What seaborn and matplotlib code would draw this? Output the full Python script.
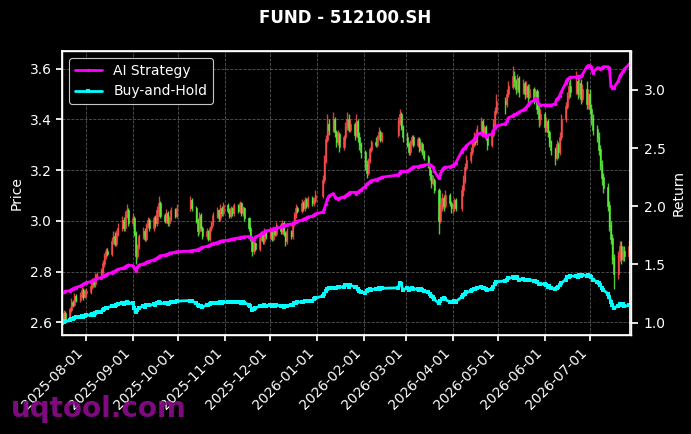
import matplotlib
matplotlib.use("Agg")
import matplotlib.pyplot as plt
import matplotlib.dates as mdates
import seaborn as sns
import numpy as np
import pandas as pd

# trading calendar (SSE holidays removed)
start_date = "2025-07-16"
end_date = "2026-07-28"
holidays = ["2025-10-01", "2025-10-02", "2025-10-03", "2025-10-06", "2025-10-07", "2025-10-08",
            "2026-01-01", "2026-01-02",
            "2026-02-16", "2026-02-17", "2026-02-18", "2026-02-19", "2026-02-20", "2026-02-23",
            "2026-04-06", "2026-05-01", "2026-05-04", "2026-05-05", "2026-06-19"]

first_open = 2.605

close = [
    2.620, 2.635, 2.615, 2.650, 2.680, 2.670, 2.700, 2.690, 2.705, 2.725, 2.700, 2.715,  # jul
    2.72, 2.74, 2.76, 2.75, 2.78, 2.79, 2.80, 2.83, 2.86, 2.88, 2.87, 2.92, 2.94, 2.91, 2.95, 2.97, 3.00, 2.97, 3.02, 3.04, 2.99,  # aug
    3.01, 2.95, 2.86, 2.90, 2.94, 2.96, 2.93, 2.98, 3.00, 2.97, 3.01, 2.99, 3.04, 3.07, 3.02, 3.00, 3.03, 2.99, 3.01, 3.04, 3.02, 3.05,  # sep
    3.08, 3.05, 3.00, 2.96, 3.02, 2.97, 2.94, 2.96, 2.93, 2.97, 2.99, 3.02, 3.04, 3.01, 3.05, 3.03, 3.06,  # oct
    3.04, 3.02, 3.05, 3.03, 3.06, 3.04, 3.07, 3.03, 3.05, 3.01, 2.97, 2.93, 2.88, 2.91, 2.89, 2.93, 2.95, 2.92, 2.96, 2.94,  # nov
    2.96, 2.93, 2.97, 2.95, 2.98, 2.96, 2.99, 2.95, 2.92, 2.96, 2.94, 2.99, 3.02, 3.05, 3.04, 3.07, 3.05, 3.08, 3.06, 3.09, 3.07, 3.08, 3.10,  # dec
    3.16, 3.24, 3.32, 3.38, 3.36, 3.40, 3.35, 3.31, 3.34, 3.29, 3.33, 3.37, 3.40, 3.36, 3.38, 3.34, 3.39, 3.33, 3.30, 3.27,  # jan
    3.22, 3.19, 3.24, 3.28, 3.31, 3.30, 3.33, 3.35, 3.32, 3.34, 3.39, 3.42, 3.37, 3.33,  # feb
    3.30, 3.27, 3.31, 3.33, 3.30, 3.32, 3.28, 3.30, 3.27, 3.25, 3.22, 3.18, 3.15, 3.16, 3.12, 3.00, 3.05, 3.09, 3.06, 3.10, 3.07, 3.05,  # mar
    3.05, 3.08, 3.05, 3.12, 3.16, 3.21, 3.24, 3.27, 3.30, 3.33, 3.31, 3.36, 3.39, 3.35, 3.37, 3.33, 3.30, 3.34, 3.38, 3.43, 3.47,  # apr
    3.46, 3.50, 3.53, 3.57, 3.55, 3.52, 3.56, 3.51, 3.54, 3.50, 3.53, 3.49, 3.52, 3.48, 3.51, 3.44, 3.40, 3.42,  # may
    3.37, 3.39, 3.35, 3.31, 3.28, 3.25, 3.30, 3.27, 3.33, 3.40, 3.45, 3.49, 3.53, 3.51, 3.55, 3.50, 3.54, 3.48, 3.52, 3.46, 3.50,  # jun
    3.44, 3.40, 3.36, 3.33, 3.28, 3.22, 3.17, 3.13, 3.06, 2.98, 2.93, 2.85, 2.79, 2.86, 2.90, 2.85, 2.88, 2.86, 2.90, 2.87,  # jul
]

high = [
    2.64, 2.65, 2.645, 2.66, 2.695, 2.69, 2.715, 2.71, 2.72, 2.74, 2.735, 2.73,
    2.735, 2.755, 2.775, 2.77, 2.795, 2.80, 2.815, 2.845, 2.875, 2.895, 2.895, 2.935, 2.96, 2.955, 2.965, 2.99, 3.02, 3.015, 3.04, 3.065, 3.05,
    3.03, 3.02, 2.96, 2.91, 2.95, 2.975, 2.97, 2.99, 3.015, 3.01, 3.02, 3.025, 3.06, 3.10, 3.08, 3.03, 3.045, 3.04, 3.02, 3.055, 3.05, 3.065,
    3.10, 3.09, 3.06, 3.01, 3.035, 3.03, 2.98, 2.97, 2.965, 2.98, 3.00, 3.035, 3.055, 3.045, 3.065, 3.06, 3.075,
    3.07, 3.05, 3.06, 3.055, 3.07, 3.065, 3.08, 3.075, 3.06, 3.055, 3.015, 2.98, 2.94, 2.92, 2.915, 2.94, 2.96, 2.955, 2.97, 2.965,
    2.975, 2.97, 2.98, 2.975, 2.995, 2.99, 3.005, 3.00, 2.96, 2.97, 2.965, 3.00, 3.035, 3.065, 3.06, 3.085, 3.08, 3.095, 3.09, 3.10, 3.10, 3.095, 3.12,
    3.18, 3.26, 3.34, 3.42, 3.40, 3.43, 3.41, 3.36, 3.36, 3.35, 3.34, 3.39, 3.43, 3.42, 3.40, 3.39, 3.42, 3.40, 3.35, 3.31,
    3.28, 3.24, 3.25, 3.29, 3.32, 3.33, 3.34, 3.37, 3.36, 3.35, 3.41, 3.44, 3.43, 3.38,
    3.35, 3.31, 3.32, 3.34, 3.34, 3.33, 3.33, 3.31, 3.31, 3.28, 3.26, 3.23, 3.20, 3.18, 3.17, 3.13, 3.07, 3.11, 3.10, 3.12, 3.11, 3.08,
    3.07, 3.09, 3.09, 3.14, 3.18, 3.23, 3.26, 3.29, 3.32, 3.35, 3.34, 3.38, 3.41, 3.40, 3.38, 3.38, 3.34, 3.36, 3.40, 3.45, 3.50,
    3.49, 3.52, 3.55, 3.61, 3.59, 3.56, 3.58, 3.57, 3.56, 3.55, 3.55, 3.54, 3.54, 3.53, 3.52, 3.52, 3.46, 3.44,
    3.43, 3.41, 3.40, 3.36, 3.32, 3.29, 3.32, 3.31, 3.35, 3.42, 3.47, 3.51, 3.55, 3.56, 3.59, 3.57, 3.56, 3.56, 3.54, 3.55, 3.52,
    3.52, 3.46, 3.42, 3.38, 3.35, 3.30, 3.24, 3.19, 3.15, 3.08, 3.00, 2.95, 2.87, 2.88, 2.92, 2.92, 2.90, 2.90, 2.92, 2.91,
]

low = [
    2.59, 2.61, 2.60, 2.61, 2.64, 2.66, 2.665, 2.68, 2.68, 2.695, 2.69, 2.695,
    2.70, 2.71, 2.73, 2.74, 2.74, 2.77, 2.78, 2.79, 2.82, 2.85, 2.86, 2.86, 2.91, 2.90, 2.90, 2.94, 2.96, 2.96, 2.96, 3.01, 2.98,
    2.98, 2.94, 2.83, 2.85, 2.89, 2.93, 2.92, 2.92, 2.97, 2.96, 2.96, 2.98, 2.98, 3.03, 3.01, 2.99, 2.99, 2.98, 2.98, 3.00, 3.01, 3.01,
    3.04, 3.04, 2.99, 2.94, 2.95, 2.96, 2.93, 2.93, 2.92, 2.92, 2.96, 2.98, 3.01, 3.00, 3.00, 3.02, 3.02,
    3.03, 3.01, 3.01, 3.02, 3.02, 3.03, 3.03, 3.02, 3.02, 3.00, 2.96, 2.92, 2.86, 2.87, 2.88, 2.88, 2.92, 2.91, 2.91, 2.93,
    2.93, 2.92, 2.92, 2.94, 2.94, 2.95, 2.95, 2.94, 2.90, 2.91, 2.93, 2.93, 2.98, 3.01, 3.03, 3.03, 3.04, 3.04, 3.05, 3.05, 3.06, 3.06, 3.07,
    3.09, 3.15, 3.23, 3.31, 3.34, 3.35, 3.33, 3.29, 3.30, 3.27, 3.28, 3.32, 3.36, 3.35, 3.35, 3.32, 3.33, 3.31, 3.28, 3.25,
    3.20, 3.17, 3.18, 3.23, 3.27, 3.29, 3.29, 3.32, 3.31, 3.31, 3.33, 3.38, 3.36, 3.31,
    3.29, 3.26, 3.26, 3.30, 3.29, 3.29, 3.27, 3.27, 3.26, 3.24, 3.21, 3.16, 3.13, 3.14, 3.11, 2.95, 2.99, 3.04, 3.04, 3.05, 3.06, 3.03,
    3.03, 3.04, 3.04, 3.04, 3.10, 3.15, 3.20, 3.23, 3.26, 3.29, 3.30, 3.30, 3.35, 3.34, 3.34, 3.32, 3.28, 3.29, 3.33, 3.37, 3.42,
    3.42, 3.45, 3.49, 3.52, 3.53, 3.50, 3.51, 3.49, 3.50, 3.48, 3.49, 3.47, 3.48, 3.46, 3.47, 3.42, 3.37, 3.38,
    3.35, 3.35, 3.33, 3.29, 3.26, 3.22, 3.24, 3.25, 3.26, 3.32, 3.39, 3.44, 3.48, 3.49, 3.50, 3.48, 3.49, 3.46, 3.47, 3.44, 3.44,
    3.42, 3.38, 3.34, 3.31, 3.26, 3.20, 3.14, 3.11, 3.04, 2.96, 2.91, 2.83, 2.73, 2.77, 2.84, 2.83, 2.84, 2.84, 2.85, 2.85,
]

ai_strategy = [
    1.255, 1.262, 1.268, 1.275, 1.283, 1.290, 1.296, 1.302, 1.315, 1.322, 1.330, 1.338,
    1.345, 1.352, 1.360, 1.367, 1.372, 1.380, 1.388, 1.398, 1.405, 1.412, 1.418, 1.430, 1.438, 1.442, 1.450, 1.458, 1.468, 1.472, 1.482, 1.490, 1.496,
    1.490, 1.470, 1.448, 1.475, 1.495, 1.505, 1.510, 1.518, 1.525, 1.528, 1.540, 1.545, 1.555, 1.565, 1.575, 1.580, 1.585, 1.588, 1.595, 1.600, 1.605, 1.610,
    1.615, 1.620, 1.625, 1.628, 1.635, 1.640, 1.648, 1.655, 1.660, 1.668, 1.675, 1.680, 1.688, 1.695, 1.700, 1.702, 1.705,
    1.708, 1.712, 1.715, 1.718, 1.722, 1.728, 1.730, 1.734, 1.736, 1.738, 1.740, 1.735, 1.715, 1.708, 1.735, 1.752, 1.765, 1.772, 1.780, 1.788,
    1.795, 1.800, 1.805, 1.808, 1.812, 1.820, 1.828, 1.832, 1.838, 1.842, 1.848, 1.852, 1.858, 1.865, 1.872, 1.880, 1.888, 1.895, 1.900, 1.908, 1.915, 1.925, 1.935,
    1.95, 1.98, 2.02, 2.06, 2.09, 2.11, 2.08, 2.07, 2.06, 2.07, 2.08, 2.09, 2.10, 2.11, 2.12, 2.12, 2.11, 2.12, 2.13, 2.14,
    2.17, 2.19, 2.20, 2.21, 2.22, 2.23, 2.23, 2.24, 2.24, 2.25, 2.27, 2.29, 2.30, 2.30,
    2.30, 2.31, 2.32, 2.33, 2.34, 2.34, 2.345, 2.35, 2.35, 2.355, 2.36, 2.355, 2.35, 2.34, 2.30, 2.24, 2.28, 2.31, 2.33, 2.335, 2.34, 2.345,
    2.35, 2.36, 2.37, 2.47, 2.49, 2.50, 2.52, 2.55, 2.56, 2.57, 2.59, 2.62, 2.63, 2.61, 2.61, 2.60, 2.61, 2.62, 2.65, 2.67, 2.69,
    2.71, 2.73, 2.76, 2.78, 2.79, 2.79, 2.80, 2.81, 2.83, 2.84, 2.85, 2.87, 2.89, 2.91, 2.93, 2.92, 2.88, 2.87,
    2.87, 2.87, 2.87, 2.87, 2.87, 2.88, 2.92, 2.93, 2.95, 2.98, 3.06, 3.09, 3.10, 3.11, 3.11, 3.12, 3.11, 3.12, 3.13, 3.20, 3.21,
    3.21, 3.20, 3.15, 3.19, 3.19, 3.18, 3.19, 3.20, 3.20, 3.19, 3.03, 3.02, 3.02, 3.08, 3.12, 3.14, 3.16, 3.18, 3.22, 3.20,
]

buy_hold = [
    1.000, 1.008, 1.012, 1.020, 1.028, 1.030, 1.042, 1.046, 1.050, 1.058, 1.052, 1.060,
    1.062, 1.068, 1.072, 1.070, 1.085, 1.090, 1.095, 1.105, 1.118, 1.125, 1.130, 1.140, 1.145, 1.140, 1.150, 1.158, 1.165, 1.160, 1.170, 1.175, 1.168,
    1.165, 1.130, 1.090, 1.110, 1.130, 1.140, 1.138, 1.150, 1.155, 1.148, 1.158, 1.155, 1.165, 1.175, 1.168, 1.165, 1.170, 1.162, 1.168, 1.178, 1.175, 1.185,
    1.19, 1.185, 1.17, 1.15, 1.145, 1.14, 1.135, 1.15, 1.155, 1.16, 1.165, 1.17, 1.17, 1.165, 1.175, 1.17, 1.175,
    1.18, 1.175, 1.18, 1.175, 1.18, 1.175, 1.18, 1.17, 1.175, 1.17, 1.155, 1.14, 1.11, 1.12, 1.125, 1.14, 1.145, 1.14, 1.15, 1.145,
    1.15, 1.145, 1.15, 1.145, 1.15, 1.145, 1.14, 1.135, 1.14, 1.145, 1.15, 1.155, 1.165, 1.17, 1.175, 1.18, 1.18, 1.185, 1.185, 1.19, 1.19, 1.20, 1.21,
    1.23, 1.25, 1.27, 1.29, 1.30, 1.30, 1.295, 1.30, 1.31, 1.305, 1.31, 1.32, 1.325, 1.31, 1.32, 1.31, 1.305, 1.29, 1.27, 1.26,
    1.255, 1.27, 1.28, 1.29, 1.285, 1.29, 1.29, 1.295, 1.29, 1.295, 1.30, 1.345, 1.33, 1.28,
    1.30, 1.28, 1.29, 1.30, 1.29, 1.29, 1.28, 1.29, 1.28, 1.27, 1.26, 1.25, 1.23, 1.22, 1.20, 1.165, 1.19, 1.20, 1.21, 1.20, 1.18, 1.18,
    1.18, 1.19, 1.18, 1.22, 1.24, 1.25, 1.26, 1.27, 1.28, 1.29, 1.29, 1.30, 1.31, 1.30, 1.30, 1.29, 1.28, 1.29, 1.31, 1.33, 1.35,
    1.36, 1.37, 1.38, 1.39, 1.385, 1.38, 1.39, 1.37, 1.375, 1.37, 1.365, 1.37, 1.365, 1.36, 1.36, 1.35, 1.33, 1.335,
    1.33, 1.32, 1.31, 1.315, 1.30, 1.29, 1.30, 1.31, 1.32, 1.34, 1.37, 1.39, 1.395, 1.40, 1.40, 1.395, 1.41, 1.40, 1.41, 1.405, 1.41,
    1.40, 1.39, 1.37, 1.35, 1.34, 1.32, 1.30, 1.28, 1.25, 1.22, 1.18, 1.15, 1.13, 1.14, 1.16, 1.15, 1.16, 1.14, 1.15, 1.14,
]

UP_COLOR = "#ff4d4d"
DOWN_COLOR = "#5cf03c"

sns.set_theme(style="dark", rc={
    "figure.facecolor": "black",
    "axes.facecolor": "black",
    "axes.edgecolor": "white",
    "axes.labelcolor": "white",
    "text.color": "white",
    "xtick.color": "white",
    "ytick.color": "white",
    "xtick.bottom": True,
    "ytick.left": True,
    "ytick.right": True,
    "grid.color": "#555555",
    "grid.linestyle": "--",
    "grid.linewidth": 0.6,
    "xtick.labelsize": 10,
    "ytick.labelsize": 10,
    "axes.labelsize": 10,
    "legend.fontsize": 10,
})
plt.rcParams["font.family"] = ["DejaVu Sans"]

dates = pd.bdate_range(start_date, end_date)
dates = dates[~dates.isin(pd.to_datetime(holidays))]
x = mdates.date2num(dates.to_pydatetime())

c = np.array(close)
o = np.r_[first_open, c[:-1]]
hi = np.array(high)
lo = np.array(low)
up = c >= o
colors = np.where(up, UP_COLOR, DOWN_COLOR)

fig = plt.figure(figsize=(6.91, 4.34), dpi=100)
ax = fig.add_axes([62 / 691, 1 - 335 / 434, (630.5 - 62) / 691, (335 - 51) / 434])

ax.vlines(x, lo, hi, colors=colors, linewidth=1.0, alpha=0.85)
ax.bar(x, np.abs(c - o) + 0.002, bottom=np.minimum(o, c), width=0.7,
       color=colors, edgecolor=colors, linewidth=0.5, alpha=0.85)

ax.set_ylim(2.55, 3.67)
ax.set_xlim(x[0], x[-1])
ax.set_ylabel("Price", color="white")
ax.grid(True, color="#555555", linestyle="--", linewidth=0.6)
for s in ax.spines.values():
    s.set_color("white")
    s.set_linewidth(1.0)

ax2 = ax.twinx()
sns.lineplot(x=x, y=ai_strategy, ax=ax2, color="#ff00ff", linewidth=2,
             marker="o", markersize=2.5, markeredgewidth=0, label="AI Strategy")
sns.lineplot(x=x, y=buy_hold, ax=ax2, color="#00ffff", linewidth=2,
             marker="s", markersize=2.5, markeredgewidth=0, label="Buy-and-Hold")
ax2.set_ylim(0.894, 3.335)
ax2.set_ylabel("Return", color="white")
ax2.grid(False)
ax2.set_yticks([1.0, 1.5, 2.0, 2.5, 3.0])
ax2.tick_params(axis="y", colors="white", right=True)
for s in ax2.spines.values():
    s.set_color("white")

ax.xaxis.set_major_locator(mdates.MonthLocator(bymonthday=1))
ax.xaxis.set_major_formatter(mdates.DateFormatter("%Y-%m-%d"))
ax.set_xlim(x[0], x[-1])
plt.setp(ax.get_xticklabels(), rotation=45, ha="right")
ax.tick_params(axis="both", colors="white", length=4)

leg = ax2.legend(loc="upper left", facecolor="black", edgecolor="#dddddd",
                 labelcolor="white", framealpha=0.9)
leg.get_frame().set_linewidth(0.8)

fig.text(0.5, 1 - 18 / 434, "FUND - 512100.SH", ha="center", va="center",
         fontsize=12, fontweight="bold", color="white")
fig.text(11 / 691, 1 - 417 / 434, "uqtool.com", ha="left", va="baseline",
         fontsize=20, fontweight="bold", color="#8e0b8e", alpha=0.9, zorder=10)

fig.savefig("out.png", dpi=100, facecolor="black")
